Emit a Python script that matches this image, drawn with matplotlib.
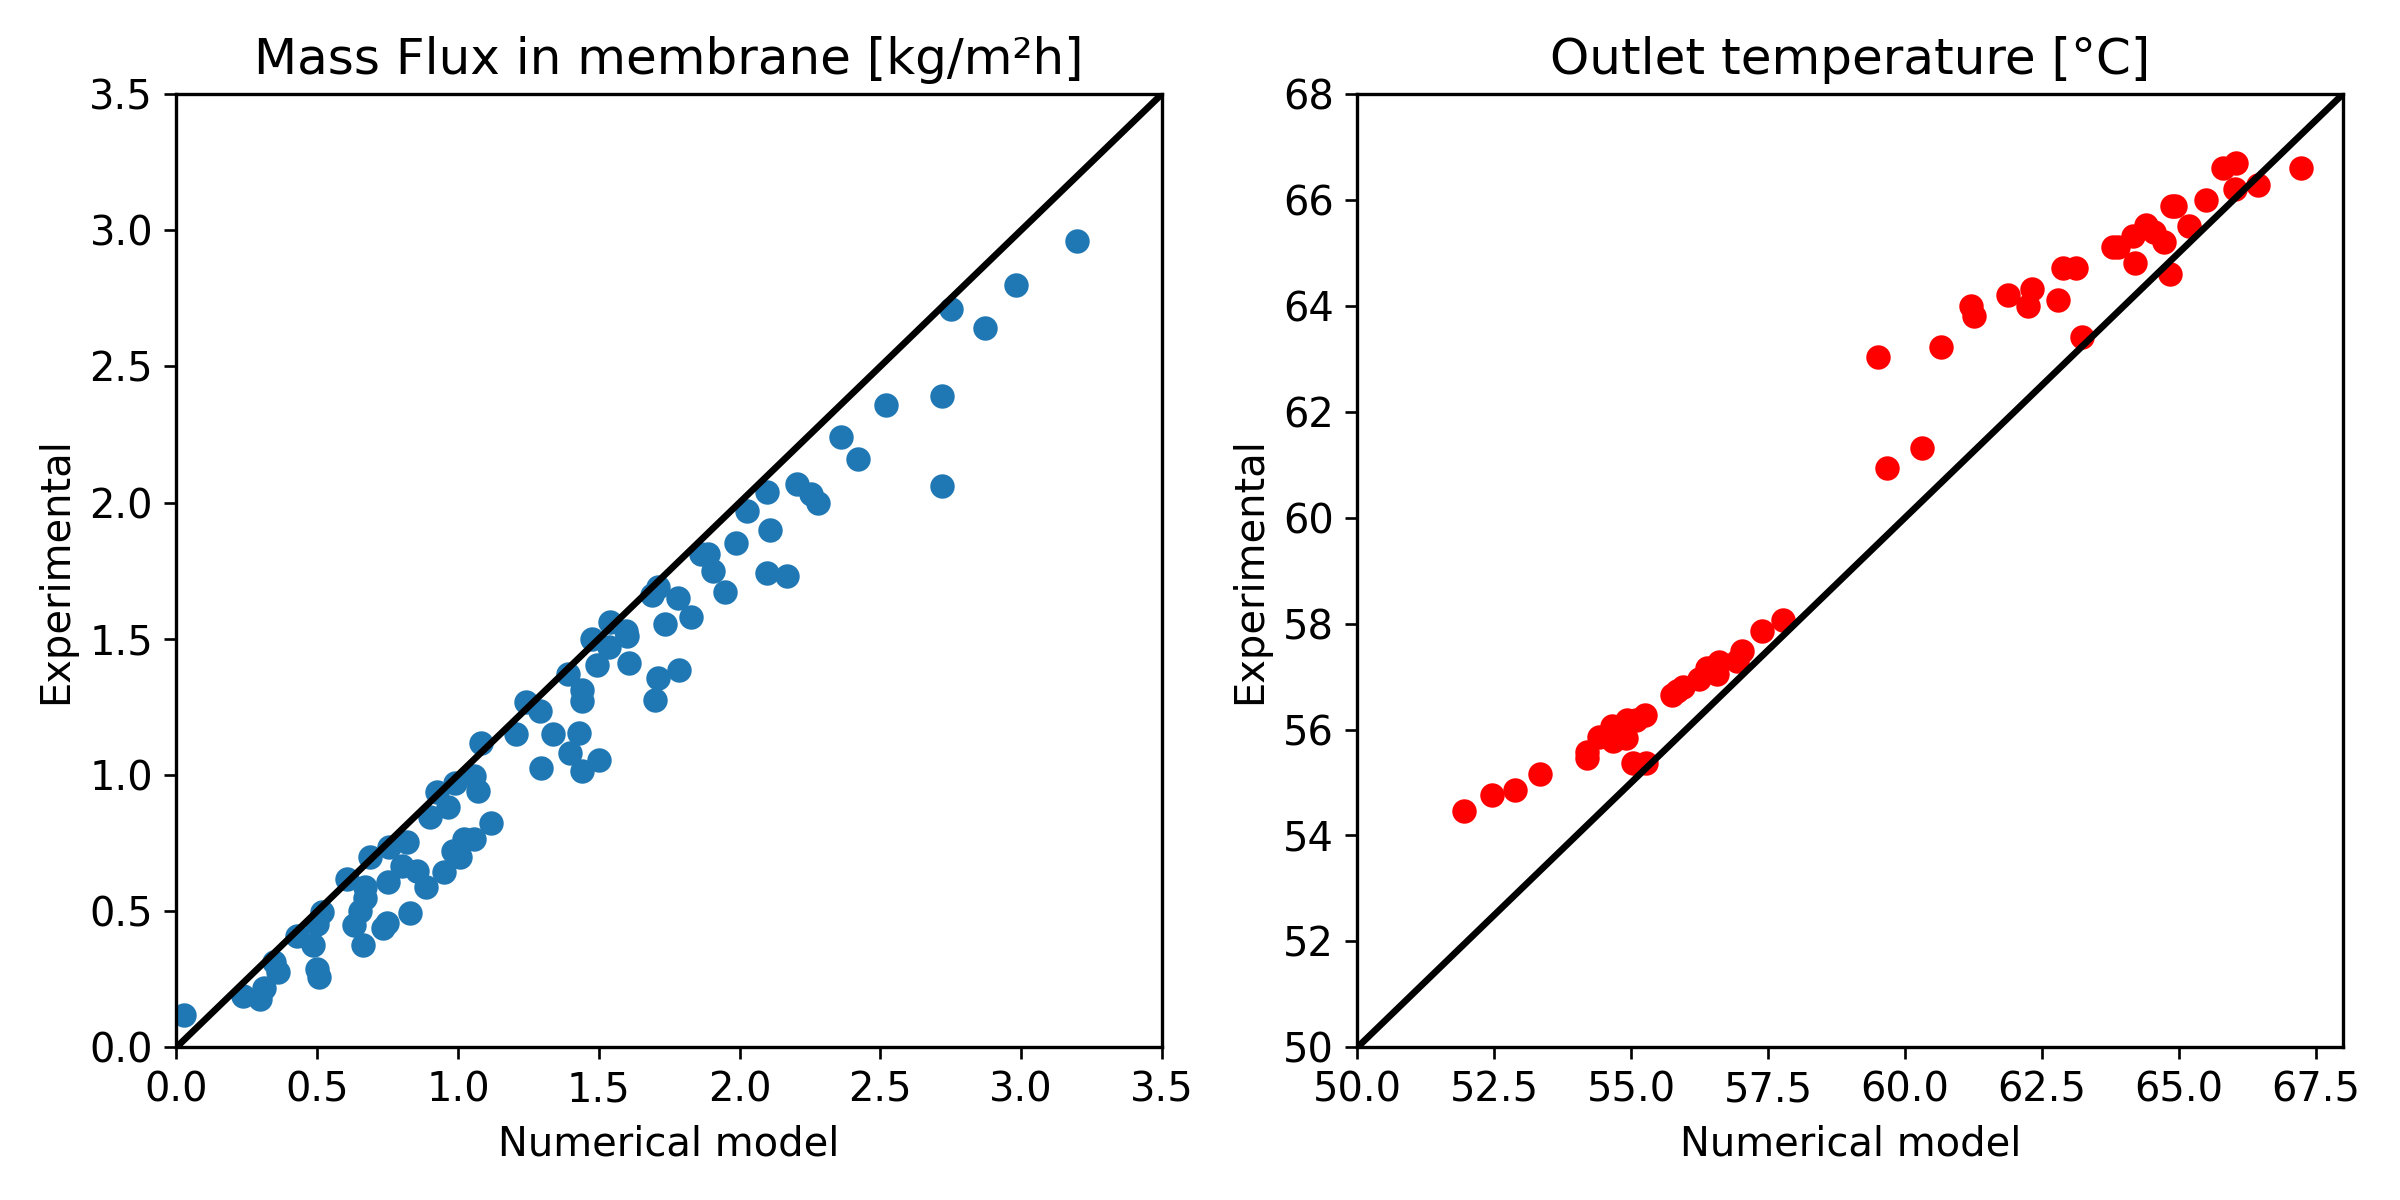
import matplotlib
matplotlib.use("Agg")
import matplotlib.pyplot as plt
from matplotlib.ticker import MultipleLocator

# Mass flux data (numerical model vs experimental)
flux_num = [0.027, 0.236, 0.296, 0.310, 0.345, 0.362, 0.43, 0.485, 0.50, 0.517, 0.499, 0.506,
            0.605, 0.632, 0.651, 0.669, 0.67, 0.664, 0.687, 0.75, 0.733, 0.748, 0.754, 0.819,
            0.801, 0.856, 0.828, 0.885, 0.90, 0.924, 0.95, 0.982, 1.008, 0.965, 0.988, 1.023,
            1.058, 1.058, 1.07, 1.119, 1.082, 1.205, 1.243, 1.29, 1.295, 1.339, 1.398, 1.392,
            1.429, 1.441, 1.442, 1.442, 1.50, 1.476, 1.535, 1.54, 1.596, 1.599, 1.492, 1.608,
            1.71, 1.786, 1.70, 1.69, 1.711, 1.78, 1.827, 1.736, 1.862, 1.889, 1.906, 1.95,
            1.987, 2.026, 2.099, 2.108, 2.096, 2.17, 2.203, 2.254, 2.28, 2.362, 2.42, 2.52,
            2.72, 2.75, 2.72, 2.87, 2.98, 3.20]
flux_exp = [0.118, 0.189, 0.177, 0.218, 0.312, 0.277, 0.409, 0.377, 0.454, 0.497, 0.289, 0.259,
            0.618, 0.448, 0.50, 0.548, 0.589, 0.377, 0.70, 0.607, 0.438, 0.456, 0.736, 0.754,
            0.666, 0.646, 0.495, 0.589, 0.846, 0.936, 0.645, 0.719, 0.699, 0.883, 0.972, 0.766,
            0.766, 0.995, 0.942, 0.825, 1.116, 1.152, 1.266, 1.233, 1.027, 1.152, 1.081, 1.372,
            1.154, 1.015, 1.313, 1.272, 1.054, 1.50, 1.47, 1.56, 1.53, 1.51, 1.405, 1.41,
            1.355, 1.384, 1.275, 1.66, 1.69, 1.65, 1.58, 1.555, 1.81, 1.81, 1.75, 1.67,
            1.85, 1.97, 2.04, 1.90, 1.74, 1.73, 2.07, 2.03, 2.0, 2.24, 2.16, 2.36,
            2.39, 2.71, 2.06, 2.64, 2.80, 2.96]

# Outlet temperature data
temp_num = [51.95, 52.46, 52.88, 53.34, 54.19, 54.19, 54.42, 54.65, 54.67, 54.90, 54.93, 55.08,
            55.26, 55.04, 55.27, 55.74, 55.83, 55.95, 56.24, 56.39, 56.60, 56.57, 56.93, 57.02,
            57.38, 57.78, 59.51, 59.67, 60.32, 60.65, 61.20, 61.26, 61.88, 62.32, 62.24, 62.79,
            62.89, 63.13, 63.23, 63.80, 63.89, 64.16, 64.20, 64.40, 64.55, 64.74, 64.84, 64.88,
            64.93, 65.18, 65.50, 65.81, 66.05, 66.02, 66.44, 67.24]
temp_exp = [54.46, 54.77, 54.86, 55.17, 55.47, 55.57, 55.86, 56.06, 55.78, 55.84, 56.18, 56.18,
            56.27, 55.36, 55.37, 56.66, 56.72, 56.81, 56.96, 57.17, 57.27, 57.05, 57.30, 57.48,
            57.86, 58.06, 63.03, 60.94, 61.32, 63.22, 64.0, 63.80, 64.20, 64.31, 64.0, 64.11,
            64.72, 64.72, 63.41, 65.11, 65.11, 65.31, 64.80, 65.52, 65.40, 65.20, 64.60, 65.89,
            65.89, 65.51, 66.0, 66.60, 66.69, 66.21, 66.29, 66.60]

plt.rcParams['xtick.labelsize'] = 12
plt.rcParams['ytick.labelsize'] = 12
plt.rcParams['axes.labelsize'] = 12
plt.rcParams['axes.linewidth'] = 1.0

fig, (ax1, ax2) = plt.subplots(1, 2, figsize=(10, 5), dpi=240)

ax1.scatter(flux_num, flux_exp, color='#1f77b4', s=40)
ax1.plot([0, 3.5], [0, 3.5], color='black', linewidth=2)
ax1.set_xlim(0, 3.5)
ax1.set_ylim(0, 3.5)
ax1.set_title("Mass Flux in membrane [kg/m²h]", fontsize=15)
ax1.set_xlabel("Numerical model")
ax1.set_ylabel("Experimental")

ax2.scatter(temp_num, temp_exp, color='red', s=40)
ax2.plot([50, 68], [50, 68], color='black', linewidth=2)
ax2.set_xlim(50, 68)
ax2.set_ylim(50, 68)
ax2.xaxis.set_major_locator(MultipleLocator(2.5))
ax2.set_title("Outlet temperature [°C]", fontsize=15)
ax2.set_xlabel("Numerical model")
ax2.set_ylabel("Experimental")

plt.tight_layout()
plt.savefig("out.png")
